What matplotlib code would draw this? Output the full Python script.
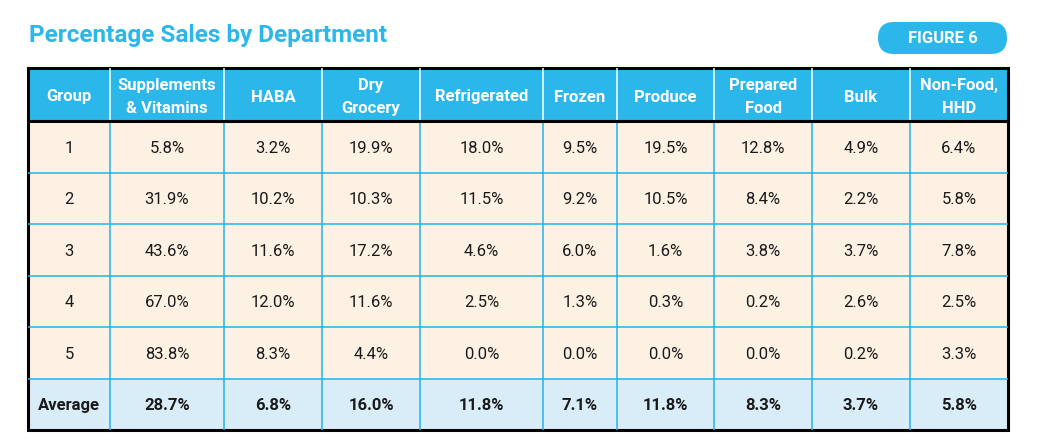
"""Percentage sales by department table, redrawn with matplotlib patches and text"""
import matplotlib.pyplot as plt
from matplotlib.patches import Rectangle, FancyBboxPatch

plt.rcParams['font.family'] = ['Roboto', 'DejaVu Sans']

title = 'Percentage Sales by Department'
badge = 'FIGURE 6'

headers = ['Group', 'Supplements\n& Vitamins', 'HABA', 'Dry\nGrocery', 'Refrigerated',
           'Frozen', 'Produce', 'Prepared\nFood', 'Bulk', 'Non-Food,\nHHD']
groups = ['1', '2', '3', '4', '5']

group1 = [5.8, 3.2, 19.9, 18.0, 9.5, 19.5, 12.8, 4.9, 6.4]
group2 = [31.9, 10.2, 10.3, 11.5, 9.2, 10.5, 8.4, 2.2, 5.8]
group3 = [43.6, 11.6, 17.2, 4.6, 6.0, 1.6, 3.8, 3.7, 7.8]
group4 = [67.0, 12.0, 11.6, 2.5, 1.3, 0.3, 0.2, 2.6, 2.5]
group5 = [83.8, 8.3, 4.4, 0.0, 0.0, 0.0, 0.0, 0.2, 3.3]
average = [28.7, 6.8, 16.0, 11.8, 7.1, 11.8, 8.3, 3.7, 5.8]

rows = [group1, group2, group3, group4, group5]

BLUE = '#2bb7ea'
LINE = '#1fb4ee'
CREAM = '#fdf1e4'
AVG_BG = '#d9edf9'
INK = '#1a1a1a'

# layout in pixels
col_edges = [28, 110, 224, 322, 420, 543, 617, 714, 812, 910, 1008]
top, head_bot, row_h = 68, 121, 51.5

fig = plt.figure(figsize=(10.47, 4.46), dpi=100)
ax = fig.add_axes([0, 0, 1, 1])
ax.set_xlim(0, 1047)
ax.set_ylim(446, 0)
ax.axis('off')

left, right = col_edges[0], col_edges[-1]
n_rows = len(rows) + 1
bottom = head_bot + n_rows * row_h

# title and badge
ax.text(29, 42, title, color=BLUE, fontsize=17.5, fontweight='bold', va='baseline', ha='left')
ax.add_patch(FancyBboxPatch((878, 22), 129, 32, boxstyle='round,pad=0,rounding_size=16',
                            fc=BLUE, ec='none'))
ax.text(942.5, 38.5, badge, color='white', fontsize=12, fontweight='bold', ha='center', va='center')

# backgrounds
ax.add_patch(Rectangle((left, top), right - left, head_bot - top, fc=BLUE, ec='none'))
ax.add_patch(Rectangle((left, head_bot), right - left, len(rows) * row_h, fc=CREAM, ec='none'))
ax.add_patch(Rectangle((left, head_bot + len(rows) * row_h), right - left, row_h, fc=AVG_BG, ec='none'))

# grid lines
for x in col_edges[1:-1]:
    ax.plot([x, x], [top, head_bot], color='white', lw=1.1, solid_capstyle='butt')
    ax.plot([x, x], [head_bot, bottom], color=LINE, lw=1.1, solid_capstyle='butt')
for i in range(1, n_rows):
    y = head_bot + i * row_h
    ax.plot([left, right], [y, y], color=LINE, lw=1.1, solid_capstyle='butt')
ax.plot([left - 1, right + 1], [head_bot, head_bot], color='black', lw=2.2, solid_capstyle='butt')
ax.add_patch(Rectangle((left, top), right - left, bottom - top, fc='none', ec='black', lw=2.2))

# header text
for j, h in enumerate(headers):
    cx = (col_edges[j] + col_edges[j + 1]) / 2
    ax.text(cx, (top + head_bot) / 2 + 2.5, h, color='white', fontsize=12, fontweight='bold',
            ha='center', va='center', linespacing=1.7)

# body
for i, vals in enumerate(rows):
    cy = head_bot + (i + 0.5) * row_h + 1.5
    ax.text((col_edges[0] + col_edges[1]) / 2, cy, groups[i], color=INK, fontsize=12,
            ha='center', va='center')
    for j, v in enumerate(vals):
        cx = (col_edges[j + 1] + col_edges[j + 2]) / 2
        ax.text(cx, cy, '{:.1f}%'.format(v), color=INK, fontsize=12, ha='center', va='center')

cy = head_bot + (len(rows) + 0.5) * row_h + 1.5
ax.text((col_edges[0] + col_edges[1]) / 2, cy, 'Average', color=INK, fontsize=12,
        fontweight='bold', ha='center', va='center')
for j, v in enumerate(average):
    cx = (col_edges[j + 1] + col_edges[j + 2]) / 2
    ax.text(cx, cy, '{:.1f}%'.format(v), color=INK, fontsize=12, fontweight='bold',
            ha='center', va='center')

fig.savefig('out.png', dpi=100)
